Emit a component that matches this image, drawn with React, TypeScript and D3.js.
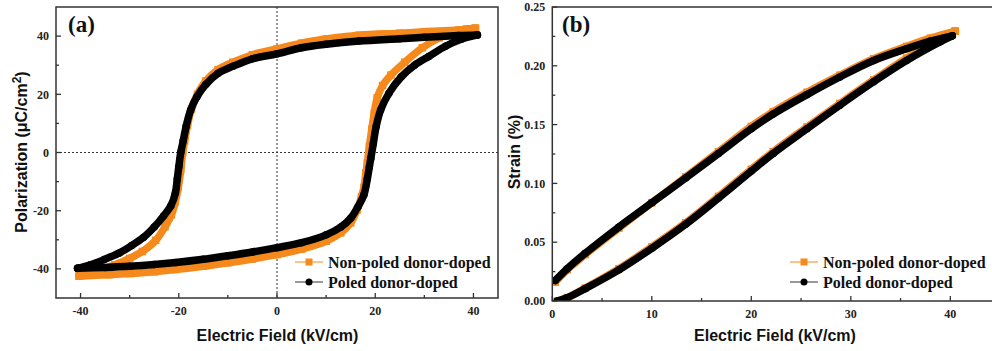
import React, { useEffect } from "react";
import * as d3 from "d3";

const W = 992;
const H = 351;

// ---------- Panel (a): P-E loops, [E (kV/cm), P (μC/cm²)] ----------
const poledUpperA: [number, number][] = [
  [40.8, 40.4], [37, 40.2], [30, 39.6], [25, 39.1], [16.7, 38.3], [10, 37.2], [5, 36], [0, 33.9],
  [-5, 32.2], [-9, 29.6], [-12, 27.2], [-14.5, 23.4], [-16.3, 19.2], [-17.6, 14.5], [-18.5, 9],
  [-19.1, 4], [-19.6, 0], [-20, -5], [-20.3, -9], [-20.7, -14], [-21.6, -18.3], [-23.1, -21.8],
  [-25, -25.6], [-27.2, -29.2], [-29.6, -32], [-32.2, -34.6], [-35.2, -36.8], [-38, -38.6], [-40.6, -39.8],
];
const poledLowerA: [number, number][] = [
  [-40.6, -39.8], [-35, -39.5], [-30, -39.1], [-25, -38.5], [-20.6, -37.8], [-15, -36.7], [-10, -35.5],
  [-5, -34.2], [0, -32.7], [5, -31], [10, -28.3], [13, -25.6], [15, -22.6], [16.5, -18.6], [17.7, -14.5],
  [18.4, -9], [18.8, -5], [19.1, -2], [19.6, 3], [20.2, 9], [21.1, 14.6], [22.8, 20.4], [25.3, 26],
  [28, 30], [30.9, 33], [34.3, 36.5], [37.5, 38.9], [40.8, 40.4],
];
const nonPoledUpperA: [number, number][] = [
  [40.4, 42.7], [37, 42.1], [30, 41.5], [25, 41], [16.7, 40.3], [10, 39], [5, 37.6], [0, 35.6],
  [-5, 33.6], [-9, 31], [-12, 28.5], [-14.5, 24.6], [-16.2, 20], [-17.4, 15], [-18.2, 9.5],
  [-18.8, 4], [-19.2, 0], [-19.6, -6], [-20.1, -12], [-20.7, -17], [-21.5, -21.4], [-22.8, -25.5],
  [-24.7, -30.2], [-27.4, -34], [-30, -36.4], [-33, -38.6], [-36.2, -40.6], [-40.3, -42.5],
];
const nonPoledLowerA: [number, number][] = [
  [-40.3, -42.5], [-34.2, -42], [-30, -41.6], [-25, -41], [-20.6, -40.2], [-15, -39.1], [-10, -37.9],
  [-5, -36.6], [0, -35.1], [5, -33.2], [10, -30.5], [13, -27.6], [15, -24.2], [16.3, -19.8],
  [17.2, -15.2], [17.7, -12], [18.1, -7], [18.4, -3.6], [18.8, 2], [19.3, 8], [19.8, 13.5],
  [20.4, 18.8], [21.5, 23], [23.2, 26.6], [26, 31], [29.6, 36], [33, 39.4], [36, 41.4], [38.5, 42.4], [40.4, 42.7],
];

// ---------- Panel (b): S-E curves, [E (kV/cm), strain (%)] ----------
const poledUpperB: [number, number][] = [
  [40.2, 0.2255], [38, 0.221], [35.6, 0.2145], [32.3, 0.2045], [28.9, 0.1905], [25.6, 0.1755],
  [22.2, 0.159], [20, 0.1465], [16.7, 0.1255], [13.4, 0.1045], [10, 0.0835], [6.7, 0.063],
  [3.3, 0.0405], [1.5, 0.0275], [0.3, 0.0175],
];
const poledLowerB: [number, number][] = [
  [0.5, 0.0], [1.5, 0.0028], [3.3, 0.0105], [6.7, 0.0265], [10, 0.0448], [13.4, 0.0652], [16.7, 0.0875],
  [20, 0.1105], [22.2, 0.1255], [25.6, 0.1465], [28.9, 0.1665], [32.3, 0.1865], [35.6, 0.2045],
  [39, 0.2205], [40.2, 0.2255],
];
const nonPoledUpperB: [number, number][] = [
  [40.5, 0.2295], [38, 0.2235], [35.6, 0.2165], [32.3, 0.206], [28.9, 0.192], [25.6, 0.1775],
  [22.2, 0.161], [20, 0.1485], [16.7, 0.127], [13.4, 0.1055], [10, 0.0835], [6.7, 0.062],
  [3.3, 0.0395], [1.5, 0.0265], [0.3, 0.016],
];
const nonPoledLowerB: [number, number][] = [
  [0.5, 0.0], [1.5, 0.0028], [3.3, 0.011], [6.7, 0.0275], [10, 0.046], [13.4, 0.0665], [16.7, 0.089],
  [20, 0.112], [22.2, 0.127], [25.6, 0.148], [28.9, 0.168], [32.3, 0.188], [35.6, 0.2065],
  [39, 0.2225], [40.5, 0.2295],
];

// ---------- Ticks & labels ----------
const xTicksA = [-40, -20, 0, 20, 40];
const xMinorA = [-30, -10, 10, 30];
const yTicksA = [-40, -20, 0, 20, 40];
const yMinorA = [-30, -10, 10, 30];
const xTicksB = [0, 10, 20, 30, 40];
const xMinorB = [5, 15, 25, 35];
const yTicksB = [0, 0.05, 0.1, 0.15, 0.2, 0.25];
const yMinorB = [0.025, 0.075, 0.125, 0.175, 0.225];
const legendLabels = ["Non-poled donor-doped", "Poled donor-doped"];

const ORANGE = "#f5891c";
const BLACK = "#000000";
const AXIS = "#333333";
const SERIF = "'Liberation Serif', 'Times New Roman', serif";
const SANS = "'Liberation Sans', Arial, sans-serif";

type Pt = [number, number];

function Series({ data, x, y, color, shape, band }: {
  data: Pt[]; x: d3.ScaleLinear<number, number>; y: d3.ScaleLinear<number, number>;
  color: string; shape: "square" | "circle"; band: number;
}) {
  const line = d3.line<Pt>().x(d => x(d[0])).y(d => y(d[1])).curve(d3.curveCatmullRom.alpha(0.5));
  const s = band;
  return (
    <g>
      <path d={line(data) || ""} fill="none" stroke={color} strokeWidth={band} strokeLinejoin="round" strokeLinecap="round" />
      {data.map((d, i) =>
        shape === "square" ? (
          <rect key={i} x={x(d[0]) - s / 2} y={y(d[1]) - s / 2} width={s} height={s} fill={color} />
        ) : (
          <circle key={i} cx={x(d[0])} cy={y(d[1])} r={s / 2} fill={color} />
        )
      )}
    </g>
  );
}

function Axes({ x, y, xTicks, xMinor, yTicks, yMinor, yFmt, labelGapY }: {
  x: d3.ScaleLinear<number, number>; y: d3.ScaleLinear<number, number>;
  xTicks: number[]; xMinor: number[]; yTicks: number[]; yMinor: number[];
  yFmt: (v: number) => string; labelGapY: number;
}) {
  const [x0, x1] = x.range();
  const [y0, y1] = y.range();
  return (
    <g>
      <rect x={x0} y={y1} width={x1 - x0} height={y0 - y1} fill="none" stroke={AXIS} strokeWidth={1.5} />
      {xTicks.map(t => (
        <g key={"xt" + t}>
          <line x1={x(t)} x2={x(t)} y1={y0} y2={y0 - 5} stroke={AXIS} strokeWidth={1.3} />
          <text x={x(t)} y={y0 + labelGapY} textAnchor="middle" fontFamily={SERIF} fontWeight="bold" fontSize={12} fill="#222">
            {t}
          </text>
        </g>
      ))}
      {xMinor.map(t => (
        <line key={"xm" + t} x1={x(t)} x2={x(t)} y1={y0} y2={y0 - 3} stroke={AXIS} strokeWidth={1.3} />
      ))}
      {yTicks.map(t => (
        <g key={"yt" + t}>
          <line x1={x0} x2={x0 + 5} y1={y(t)} y2={y(t)} stroke={AXIS} strokeWidth={1.3} />
          <text x={x0 - 7} y={y(t) + 4.2} textAnchor="end" fontFamily={SERIF} fontWeight="bold" fontSize={12} fill="#222">
            {yFmt(t)}
          </text>
        </g>
      ))}
      {yMinor.map(t => (
        <line key={"ym" + t} x1={x0} x2={x0 + 3} y1={y(t)} y2={y(t)} stroke={AXIS} strokeWidth={1.3} />
      ))}
    </g>
  );
}

function Legend({ x0, y0 }: { x0: number; y0: number }) {
  return (
    <g>
      <line x1={x0} x2={x0 + 28} y1={y0} y2={y0} stroke={ORANGE} strokeWidth={1} />
      <rect x={x0 + 14 - 3.5} y={y0 - 3.5} width={7} height={7} fill={ORANGE} />
      <text x={x0 + 33} y={y0 + 5.5} fontFamily={SERIF} fontWeight="bold" fontSize={16} fill="#111">
        {legendLabels[0]}
      </text>
      <line x1={x0} x2={x0 + 28} y1={y0 + 20} y2={y0 + 20} stroke="#333" strokeWidth={1} />
      <circle cx={x0 + 14} cy={y0 + 20} r={3.5} fill={BLACK} />
      <text x={x0 + 33} y={y0 + 25.5} fontFamily={SERIF} fontWeight="bold" fontSize={16} fill="#111">
        {legendLabels[1]}
      </text>
    </g>
  );
}

export default function App() {
  useEffect(() => {
    document.body.style.margin = "0";
  }, []);

  const xA = d3.scaleLinear().domain([-45, 45]).range([56, 498]);
  const yA = d3.scaleLinear().domain([-50, 50]).range([298, 7]);
  const xB = d3.scaleLinear().domain([0, 45]).range([552.3, 552.3 + 45 * 9.95]);
  const yB = d3.scaleLinear().domain([0, 0.25]).range([301, 7]);

  return (
    <svg width={W} height={H} viewBox={`0 0 ${W} ${H}`} style={{ display: "block", position: "absolute", left: 0, top: 0, background: "#fff" }}>
      <defs>
        <clipPath id="clipA">
          <rect x={56} y={7} width={442} height={291} />
        </clipPath>
        <clipPath id="clipB">
          <rect x={552} y={7} width={440} height={294} />
        </clipPath>
      </defs>
      <rect x={0} y={0} width={W} height={H} fill="#fff" />

      {/* Panel (a) */}
      <line x1={xA(0)} x2={xA(0)} y1={7} y2={298} stroke="#333" strokeWidth={1} strokeDasharray="2,2" />
      <line x1={56} x2={498} y1={yA(0)} y2={yA(0)} stroke="#333" strokeWidth={1} strokeDasharray="2,2" />
      <g clipPath="url(#clipA)">
        <Series data={nonPoledUpperA} x={xA} y={yA} color={ORANGE} shape="square" band={7.5} />
        <Series data={nonPoledLowerA} x={xA} y={yA} color={ORANGE} shape="square" band={7.5} />
        <Series data={poledUpperA} x={xA} y={yA} color={BLACK} shape="circle" band={7.5} />
        <Series data={poledLowerA} x={xA} y={yA} color={BLACK} shape="circle" band={7.5} />
      </g>
      <Axes x={xA} y={yA} xTicks={xTicksA} xMinor={xMinorA} yTicks={yTicksA} yMinor={yMinorA} yFmt={v => String(v)} labelGapY={16.5} />
      <text x={68} y={32} fontFamily={SERIF} fontWeight="bold" fontSize={23} fill="#111">(a)</text>
      <Legend x0={295} y0={262} />
      <text x={277.5} y={341} textAnchor="middle" fontFamily={SANS} fontWeight="bold" fontSize={16} fill="#111">
        Electric Field (kV/cm)
      </text>
      <text transform={`translate(27,${152}) rotate(-90)`} textAnchor="middle" fontFamily={SANS} fontWeight="bold" fontSize={16} fill="#111">
        Polarization (μC/cm<tspan dy={-6} fontSize={12}>2</tspan><tspan dy={6}>)</tspan>
      </text>

      {/* Panel (b) */}
      <g clipPath="url(#clipB)">
        <Series data={nonPoledUpperB} x={xB} y={yB} color={ORANGE} shape="square" band={7.5} />
        <Series data={nonPoledLowerB} x={xB} y={yB} color={ORANGE} shape="square" band={7.5} />
        <Series data={poledUpperB} x={xB} y={yB} color={BLACK} shape="circle" band={7.5} />
        <Series data={poledLowerB} x={xB} y={yB} color={BLACK} shape="circle" band={7.5} />
      </g>
      <Axes x={xB} y={yB} xTicks={xTicksB} xMinor={xMinorB} yTicks={yTicksB} yMinor={yMinorB} yFmt={v => v.toFixed(2)} labelGapY={16.5} />
      <text x={562} y={32} fontFamily={SERIF} fontWeight="bold" fontSize={23} fill="#111">(b)</text>
      <Legend x0={790} y0={262} />
      <text x={775} y={341} textAnchor="middle" fontFamily={SANS} fontWeight="bold" fontSize={16} fill="#111">
        Electric Field (kV/cm)
      </text>
      <text transform={`translate(520,${152}) rotate(-90)`} textAnchor="middle" fontFamily={SANS} fontWeight="bold" fontSize={16} fill="#111">
        Strain (%)
      </text>
    </svg>
  );
}
